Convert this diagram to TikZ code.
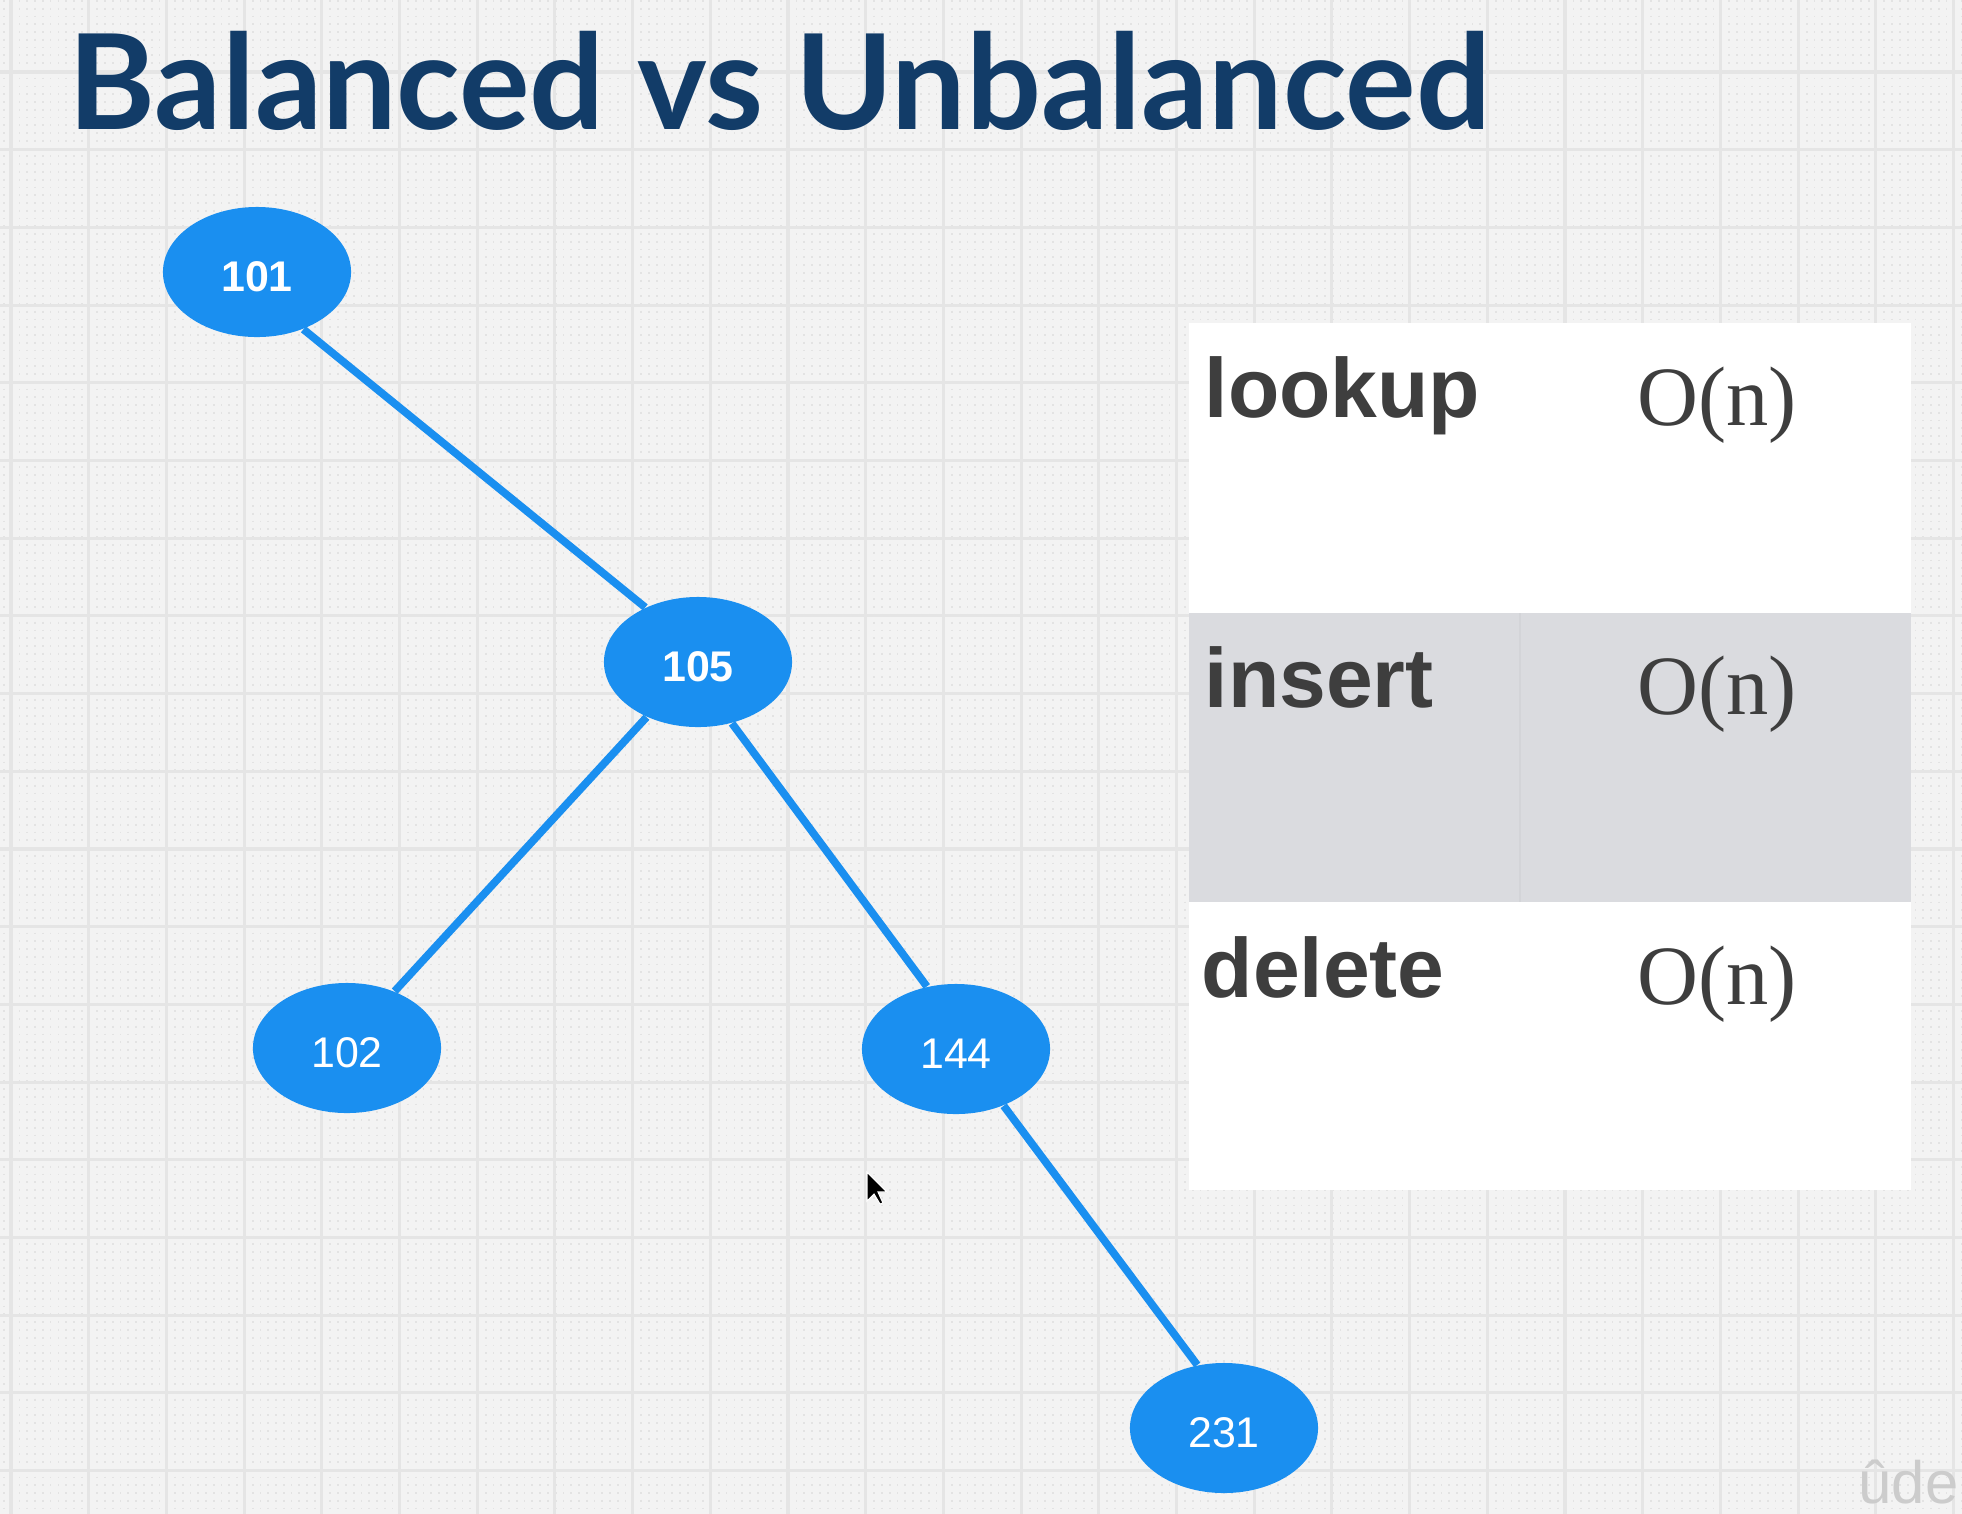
\documentclass[tikz,border=0pt]{standalone}
\usepackage{fontspec}
\setmainfont{Liberation Sans}
\newfontfamily\titlefont{Lato}
\newfontfamily\costfont{Liberation Serif}
\definecolor{TreeBlue}{RGB}{26,143,240}
\definecolor{TitleNavy}{RGB}{18,60,104}
\definecolor{CellGrey}{RGB}{218,219,223}
\definecolor{CellRule}{RGB}{211,212,216}
\definecolor{TextDark}{RGB}{62,62,62}
\definecolor{PaperGrey}{RGB}{243,243,243}
\definecolor{GridLine}{RGB}{229,229,229}
\definecolor{GridDot}{RGB}{227,227,227}
\usetikzlibrary{positioning,shapes.geometric}

\tikzset{
  treenode/.style={ellipse, fill=TreeBlue, minimum width=1.88cm, minimum height=1.30cm,
                   inner sep=0pt, text height=0.38cm, text depth=0cm,
                   text=white, font=\fontsize{12.2}{14}\selectfont},
  boldnode/.style={treenode, font=\bfseries\fontsize{12.2}{14}\selectfont},
  treeline/.style={draw=TreeBlue, line width=2.2pt},
  oplabel/.style={anchor=base west, inner sep=0pt, text=TextDark,
                  font=\bfseries\fontsize{23.9}{28}\selectfont},
  costlabel/.style={anchor=base west, inner sep=0pt, text=TextDark,
                    font=\costfont\fontsize{24}{28}\selectfont},
}

\begin{document}
\begin{tikzpicture}[x=0.01cm, y=-0.01cm]
  % paper background
  \fill[PaperGrey] (0,0) rectangle (1962,1514);
  \useasboundingbox (0,0) rectangle (1962,1514);
  \foreach \i in {0,...,252}
    \draw[GridDot, line width=0.5pt, dash pattern=on 0.5pt off 1.71pt]
      ({4+7.77*\i},0) -- ++(0,1514);
  \foreach \i in {0,...,25}
    \draw[GridLine, line width=0.9pt] ({11+77.7*\i},0) -- ++(0,1514);
  \foreach \i in {0,...,19}
    \draw[GridLine, line width=0.9pt] (0,{72+77.7*\i}) -- ++(1962,0);

  \node[anchor=base west, inner sep=0pt, text=TitleNavy,
        font=\titlefont\bfseries\fontsize{37.6}{42}\selectfont] (title) at (68,129)
    {Balanced vs Unbalanced};

  % tree
  \node[boldnode] (n101) at (257,272) {101};
  \node[boldnode] (n105) at (698,662) {105};
  \node[treenode] (n102) at (347,1048) {102};
  \node[treenode] (n144) at (956,1049) {144};
  \node[treenode] (n231) at (1224,1428) {231};
  \draw[treeline] (n101.-51) -- (n105.134);
  \draw[treeline] (n105.-133) -- (n102.50);
  \draw[treeline] (n105.-61) -- (n144.115);
  \draw[treeline] (n144.-50) -- (n231.113);

  % cost table
  \fill[white] (1189,323) rectangle (1911,1190);
  \fill[CellGrey] (1189,613) rectangle (1911,902);
  \draw[CellRule, line width=0.4pt] (1520,613) -- (1520,902);
  \node[oplabel] (lookup) at (1204,417) {lookup};
  \node[oplabel] (insert) at (1204,707) {insert};
  \node[oplabel] (delete) at (1201,997) {delete};
  \node[costlabel] (lookupcost) at (1637,425) {O(n)};
  \node[costlabel] (insertcost) at (1637,714) {O(n)};
  \node[costlabel] (deletecost) at (1637,1004) {O(n)};

  % pointer and watermark
  \filldraw[black, draw=white, line width=0.3pt]
    (867,1172) -- ++(0,29) -- ++(7,-7) -- ++(6,10) -- ++(3,-1) -- ++(-5,-11) -- ++(9,0) -- cycle;
  \node[anchor=base east, inner sep=0pt, text=gray!40,
        font=\fontsize{17}{19}\selectfont] (udemy) at (1959,1503) {ûde};
\end{tikzpicture}
\end{document}
